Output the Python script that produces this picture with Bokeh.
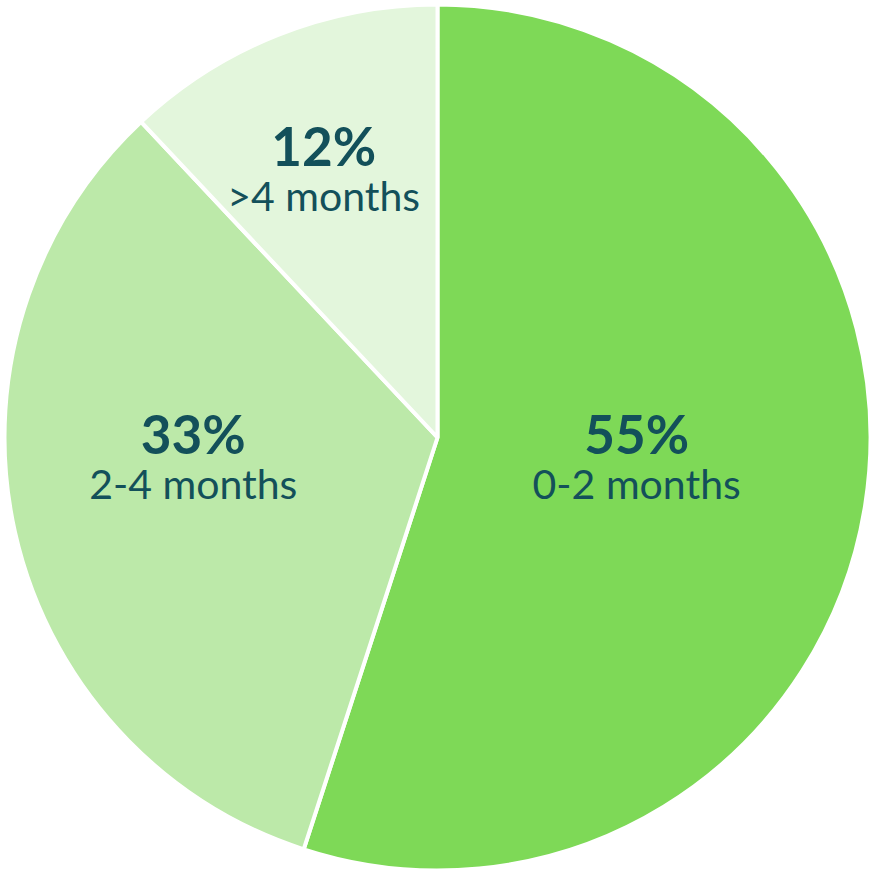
import math
from bokeh.plotting import figure
from bokeh.models import ColumnDataSource
from bokeh.core.properties import value
from bokeh.embed import file_html
from bokeh.resources import INLINE

# Data
categories = ["0-2 months", "2-4 months", ">4 months"]
shares = [55, 33, 12]
pct_labels = ["55%", "33%", "12%"]
colors = ["#7ED957", "#BCE9A9", "#E3F6DC"]

# label anchor offsets (fraction of radius) – layout only
label_dx = [0.46, -0.564, -0.263]
label_dy = [0.009, 0.009, 0.674]

W = H = 870
cx, cy, R = 437, 433, 433

total = sum(shares)
starts, ends = [], []
a = math.pi / 2
for s in shares:
    starts.append(a)
    a -= s / total * 2 * math.pi
    ends.append(a)

src = ColumnDataSource(dict(cat=categories, start=starts, end=ends, color=colors))

p = figure(width=W, height=H, x_range=(0, W), y_range=(0, H),
           output_backend="svg", toolbar_location=None, min_border=0)
p.axis.visible = False
p.grid.visible = False
p.outline_line_color = None
p.background_fill_color = "white"
p.border_fill_color = "white"

p.wedge(x=cx, y=cy, radius=R, start_angle="start", end_angle="end",
        direction="clock", fill_color="color", line_color="white",
        line_width=4, source=src)

lx = [cx + d * R for d in label_dx]
ly = [cy + d * R for d in label_dy]
tsrc = ColumnDataSource(dict(x=lx, y=ly, pct=pct_labels, cat=categories))

p.text(x="x", y="y", text="pct", source=tsrc, text_font=value("Lato"),
       text_font_style="bold", text_font_size="53px", text_color="#13505A",
       text_align="center", text_baseline="alphabetic")
p.text(x="x", y="y", text="cat", source=tsrc, text_font=value("Lato"),
       text_font_size="41px", text_color="#13505A",
       text_align="center", text_baseline="alphabetic", y_offset=50)

open("out.html", "w").write(file_html(p, INLINE))
